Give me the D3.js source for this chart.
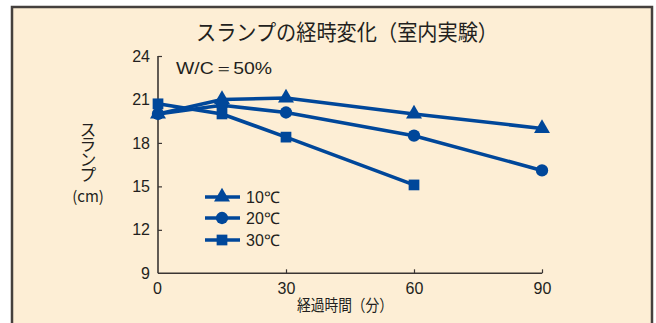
<!DOCTYPE html>
<html>
<head>
<meta charset="utf-8">
<script src="https://cdn.jsdelivr.net/npm/d3@7"></script>
<style>
  html, body { margin: 0; padding: 0; background: #ffffff; }
  svg { display: block; }
  text { font-family: "Noto Sans CJK JP", "Noto Sans", sans-serif; fill: #231f20; }
</style>
</head>
<body>
<svg id="chart" width="656" height="323"></svg>
<script>
// Elapsed time (minutes) and slump (cm) per curing temperature
const minutes = [0, 15, 30, 60, 90];
const slump10 = [20.0, 21.0, 21.1, 20.0, 19.0];
const slump20 = [20.0, 20.6, 20.1, 18.5, 16.1];
const slump30 = [20.7, 20.0, 18.4, 15.1];
const seriesNames = ["10℃", "20℃", "30℃"];
const xTicks = [0, 30, 60, 90];
const yTicks = [9, 12, 15, 18, 21, 24];

const blue = "#00479a";
const axisColor = "#3a3533";

const svg = d3.select("#chart");

// panel background and frame
svg.append("rect")
  .attr("x", 12).attr("y", 7).attr("width", 640).attr("height", 330)
  .attr("fill", "#fdeed5").attr("stroke", "#45403d").attr("stroke-width", 2.5);

const x = d3.scaleLinear().domain([0, 90]).range([158, 542]);
const y = d3.scaleLinear().domain([9, 24]).range([273.3, 56]);

// title
svg.append("text")
  .attr("x", 196).attr("y", 40)
  .attr("textLength", 302)
  .attr("lengthAdjust", "spacingAndGlyphs")
  .style("font-size", "22px")
  .text("スランプの経時変化（室内実験）");

// axes with inward ticks
const yAxis = svg.append("g")
  .attr("transform", `translate(${x(0)},0)`)
  .call(d3.axisLeft(y).tickValues(yTicks).tickSize(-4).tickPadding(8));
const xAxis = svg.append("g")
  .attr("transform", `translate(0,${y(9)})`)
  .call(d3.axisBottom(x).tickValues(xTicks).tickSize(-4).tickPadding(9));

[yAxis, xAxis].forEach(g => {
  g.select(".domain").attr("stroke", axisColor).attr("stroke-width", 1.6);
  g.selectAll(".tick line").attr("stroke", axisColor).attr("stroke-width", 1.2);
  g.selectAll(".tick text")
    .style("font-family", "'Liberation Sans', Arial, sans-serif")
    .style("font-size", "16px").attr("fill", "#231f20");
});
yAxis.select(".domain").attr("d", `M-0,${y(24)}H-0V${y(9)}`);
yAxis.selectAll(".tick line").filter(d => d === 9).remove();
xAxis.select(".domain").attr("d", `M${x(0)},0H${x(90)}`);
xAxis.selectAll(".tick line").filter(d => d === 0).remove();
xAxis.selectAll(".tick text").filter(d => d === 0).attr("dx", -1);

// axis titles
svg.append("text")
  .attr("x", 297).attr("y", 311)
  .attr("textLength", 96)
  .attr("lengthAdjust", "spacingAndGlyphs")
  .style("font-size", "16px")
  .text("経過時間（分）");

svg.append("text")
  .attr("x", 88).attr("y", 121)
  .attr("writing-mode", "tb")
  .style("font-size", "17px")
  .style("letter-spacing", "-2px")
  .text("スランプ");
svg.append("text")
  .attr("x", 88).attr("y", 202)
  .attr("text-anchor", "middle")
  .style("font-size", "15px")
  .text("(cm)");

svg.append("text")
  .attr("x", 176).attr("y", 74)
  .attr("textLength", 96)
  .attr("lengthAdjust", "spacingAndGlyphs")
  .style("font-family", "'Liberation Sans', Arial, sans-serif")
  .style("font-size", "17px")
  .text("W/C＝50%");

// series
const series = [
  { name: seriesNames[0], values: slump10, symbol: d3.symbolTriangle, size: 110 },
  { name: seriesNames[1], values: slump20, symbol: d3.symbolCircle, size: 120 },
  { name: seriesNames[2], values: slump30, symbol: d3.symbolSquare, size: 115 }
];

const line = d3.line()
  .x(d => x(d[0]))
  .y(d => y(d[1]));

series.forEach(s => {
  const pts = s.values.map((v, i) => [minutes[i], v]);
  svg.append("path")
    .datum(pts)
    .attr("d", line)
    .attr("fill", "none")
    .attr("stroke", blue)
    .attr("stroke-width", 3.6)
    .attr("stroke-linejoin", "round");
  svg.selectAll(null)
    .data(pts)
    .join("path")
    .attr("transform", d => `translate(${x(d[0])},${y(d[1])})`)
    .attr("d", d3.symbol().type(s.symbol).size(s.size))
    .attr("fill", blue);
});

// legend
const legendY = [197, 218, 240];
series.forEach((s, i) => {
  const g = svg.append("g").attr("transform", `translate(0,${legendY[i]})`);
  g.append("line")
    .attr("x1", 205).attr("x2", 240)
    .attr("stroke", blue).attr("stroke-width", 3.6);
  g.append("path")
    .attr("transform", "translate(222,0)")
    .attr("d", d3.symbol().type(s.symbol).size(s.size))
    .attr("fill", blue);
  g.append("text")
    .attr("x", 246).attr("y", 6)
    .style("font-family", "'Liberation Sans', Arial, sans-serif")
    .style("font-size", "16px")
    .text(s.name);
});
</script>
</body>
</html>
